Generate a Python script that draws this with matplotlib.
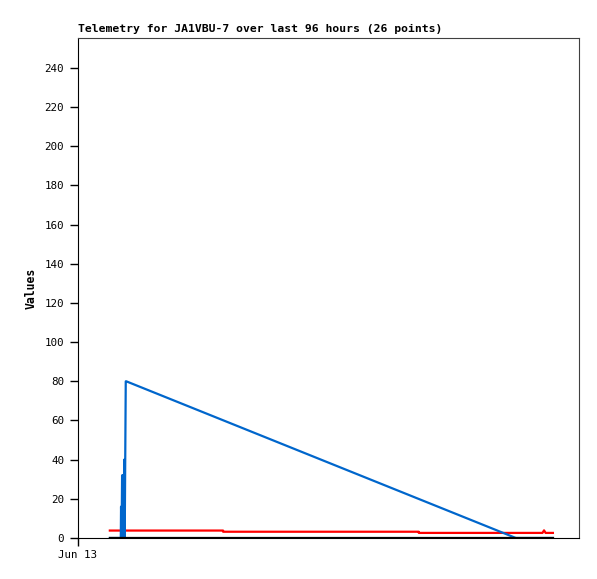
import matplotlib
matplotlib.use("Agg")
import matplotlib.pyplot as plt
import numpy as np

# hours since Jun 13 00:00
blue_hours = [6.1, 8.2, 8.25, 8.35, 8.45, 8.55, 8.65, 8.75, 8.85, 8.95, 9.05, 9.15, 9.25, 83.9, 91.0]
blue_vals  = [0,   0,   16,   0,    32,   0,    32,   0,    40,   0,    40,   80,   80,   0,    0]

red_hours = [6.1, 27.8, 27.8, 65.3, 65.3, 89.0, 89.3, 89.6, 91.0]
red_vals  = [3.8, 3.8,  3.2,  3.2,  2.6,  2.6,  3.9,  2.6,  2.6]

black_hours = [6.1, 91.0]
black_vals  = [0, 0]

title = "Telemetry for JA1VBU-7 over last 96 hours (26 points)"
ylabel = "Values"
xtick_label = "Jun 13"
yticks = list(range(0, 241, 20))

fig = plt.figure(figsize=(5.97, 5.79), dpi=100)
ax = fig.add_axes([78/597, 41/579, 501/597, 500/579])

ax.plot(red_hours, red_vals, color="#ff0000", lw=1.6, zorder=2)
ax.plot(blue_hours, blue_vals, color="#0066cc", lw=1.6, zorder=3)
ax.plot(black_hours, black_vals, color="#000000", lw=1.6, zorder=4)

ax.set_xlim(0, 96)
ax.set_ylim(0, 255.3)
ax.set_yticks(yticks)
ax.set_xticks([0])
ax.set_xticklabels([xtick_label])

mono = "DejaVu Sans Mono"
for lab in ax.get_yticklabels() + ax.get_xticklabels():
    lab.set_family(mono)
    lab.set_fontsize(7.8)
ax.tick_params(axis="y", direction="out", length=6, width=1, colors="black", pad=4)
ax.tick_params(axis="x", direction="out", length=6, width=1, colors="black", pad=3)

for s in ["top", "right"]:
    ax.spines[s].set_color("#404040")
for s in ["left", "bottom"]:
    ax.spines[s].set_color("black")

ax.set_ylabel(ylabel, family=mono, fontweight="bold", fontsize=8.3, labelpad=5)
ax.text(0, 1.008, title, transform=ax.transAxes, ha="left", va="bottom",
        family=mono, fontweight="bold", fontsize=8.2)

fig.savefig("out.png", dpi=100)
